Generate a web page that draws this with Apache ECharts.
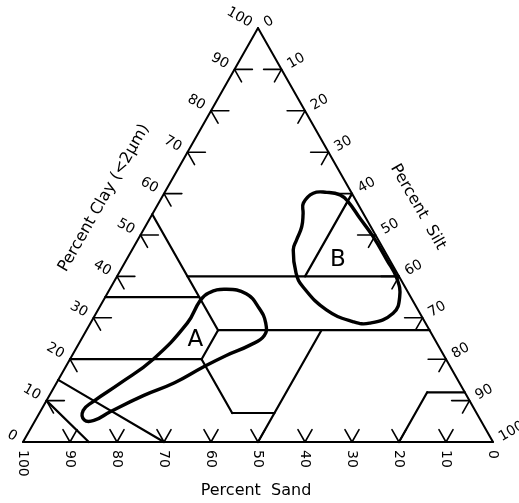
<!DOCTYPE html>
<html><head><meta charset="utf-8">
<script src="https://cdn.jsdelivr.net/npm/echarts@6/dist/echarts.min.js"></script>
<style>html,body{margin:0;padding:0;background:#fff}#c{width:519px;height:503px}</style>
</head><body><div id="c"></div>
<script>
// All points are ternary values: [percent sand, percent clay] (silt = 100 - sand - clay)
const tickValues = [10, 20, 30, 40, 50, 60, 70, 80, 90];
const labelValues = [0, 10, 20, 30, 40, 50, 60, 70, 80, 90, 100];
const triangle = [[100, 0], [0, 0], [0, 100]];
const boundarySegments = [
  [[45, 40], [0, 40]],
  [[0, 60], [20, 40]],
  [[45, 55], [45, 27]],
  [[65, 35], [45, 35]],
  [[45, 27], [0, 27]],
  [[45, 27], [52, 20]],
  [[80, 20], [52, 20]],
  [[52, 20], [52, 7]],
  [[52, 7], [43, 7]],
  [[23, 27], [50, 0]],
  [[8, 12], [0, 12]],
  [[8, 12], [20, 0]],
  [[85, 15], [70, 0]],
  [[90, 10], [86, 0]]
];
const regionA = [
  [80.3, 9.7], [72.2, 14.2], [62.3, 20.0], [50.7, 28.7], [45.2, 34.2], [42.5, 36.0],
  [38.5, 36.9], [34.6, 35.8], [33.6, 32.3], [34.0, 28.7], [35.8, 25.7], [40.0, 23.4],
  [46.3, 20.9], [52.6, 18.1], [60.6, 14.3], [68.8, 11.2], [77.8, 7.3], [82.3, 5.2],
  [84.3, 5.3], [83.4, 7.6]
];
const regionB = [
  [11.5, 57.7], [8.2, 60.1], [5.2, 60.3], [2.7, 59.7], [1.8, 58.0], [1.3, 54.1],
  [0.7, 49.6], [0.6, 44.0], [0.7, 39.5], [2.3, 35.1], [5.7, 31.1], [11.9, 28.7],
  [15.3, 29.1], [19.5, 31.9], [21.7, 37.5], [21.5, 40.8], [19.3, 46.4], [17.4, 48.8],
  [14.7, 52.0], [12.8, 55.2]
];
const regionLabels = [['A', [51, 24.6]], ['B', [11, 44]]];

function toXY(p) { return [100 - p[0] - p[1] / 2, p[1]]; }

const H = 3.8, S = 3.0;
const tickSegs = [];
tickValues.forEach(function (c) {
  tickSegs.push([[100 - c, c], [100 - c - H, c]], [[100 - c, c], [100 - c, c - S]]);
});
tickValues.forEach(function (si) {
  const c = 100 - si;
  tickSegs.push([[0, c], [H, c]], [[0, c], [S, c - S]]);
});
tickValues.forEach(function (sa) {
  tickSegs.push([[sa, 0], [sa, S]], [[sa, 0], [sa - S, S]]);
});
const edgeSegs = [[triangle[0], triangle[1]], [triangle[1], triangle[2]], [triangle[2], triangle[0]]];

function segData(segs) {
  return segs.map(function (s) { const a = toXY(s[0]), b = toXY(s[1]); return [a[0], a[1], b[0], b[1]]; });
}
function segSeries(segs, lw) {
  return {
    type: 'custom', coordinateSystem: 'cartesian2d', silent: true, clip: false,
    encode: { x: [0, 2], y: [1, 3] },
    data: segData(segs),
    renderItem: function (params, api) {
      const p1 = api.coord([api.value(0), api.value(1)]);
      const p2 = api.coord([api.value(2), api.value(3)]);
      return { type: 'line', shape: { x1: p1[0], y1: p1[1], x2: p2[0], y2: p2[1] },
        style: { stroke: '#000', lineWidth: lw, lineCap: 'round' } };
    }
  };
}
function regionSeries(pts) {
  return {
    type: 'custom', coordinateSystem: 'cartesian2d', silent: true, clip: false,
    data: [[0, 0]],
    renderItem: function (params, api) {
      const points = pts.map(function (p) { return api.coord(toXY(p)); });
      return { type: 'polygon', shape: { points: points, smooth: 0.45 },
        style: { fill: 'none', stroke: '#000', lineWidth: 3.4 } };
    }
  };
}
const FONT = '"DejaVu Sans", sans-serif';
function textEl(x, y, text, rot, align, size) {
  return { type: 'text', x: x, y: y, rotation: rot,
    style: { text: text, fill: '#000', fontSize: size, fontFamily: FONT,
      align: align, textAlign: align, verticalAlign: 'middle', textVerticalAlign: 'middle' } };
}
// label data: [axis, value]
const labelData = [];
labelValues.forEach(function (v) { labelData.push([0, v]); labelData.push([1, v]); labelData.push([2, v]); });
const nx = 0.869, ny = 0.494, GAP = 8;
const labelSeries = {
  type: 'custom', coordinateSystem: 'cartesian2d', silent: true, clip: false,
  data: labelData,
  renderItem: function (params, api) {
    const axis = api.value(0), v = api.value(1);
    let p, el;
    if (axis === 0) { // clay, left edge
      p = api.coord(toXY([100 - v, v]));
      el = textEl(p[0] - nx * GAP, p[1] - ny * GAP, String(v), -0.517, 'right', 14);
    } else if (axis === 1) { // silt, right edge
      p = api.coord(toXY([0, 100 - v]));
      el = textEl(p[0] + nx * GAP, p[1] - ny * GAP, String(v), 0.517, 'left', 14);
    } else { // sand, bottom edge
      p = api.coord(toXY([v, 0]));
      el = textEl(p[0], p[1] + 8, String(v), -Math.PI / 2, 'left', 14);
    }
    return el;
  }
};
const regionLabelSeries = {
  type: 'custom', coordinateSystem: 'cartesian2d', silent: true, clip: false,
  data: regionLabels.map(function (r) { return toXY(r[1]); }),
  renderItem: function (params, api) {
    const p = api.coord([api.value(0), api.value(1)]);
    return textEl(p[0], p[1], regionLabels[params.dataIndex][0], 0, 'center', 23);
  }
};

const chart = echarts.init(document.getElementById('c'), null, { renderer: 'canvas' });
chart.setOption({
  animation: false,
  backgroundColor: '#fff',
  grid: { left: 23, top: 28, width: 470, height: 414 },
  xAxis: { type: 'value', min: 0, max: 100, show: false },
  yAxis: { type: 'value', min: 0, max: 100, show: false },
  graphic: [
    textEl(104, 198, 'Percent Clay (<2\u03bcm)', 1.05, 'center', 16),
    textEl(418, 207, 'Percent  Silt', -1.05, 'center', 16),
    textEl(256, 491, 'Percent  Sand', 0, 'center', 16)
  ],
  series: [
    segSeries(edgeSegs, 2),
    segSeries(boundarySegments, 2.2),
    segSeries(tickSegs, 1.6),
    regionSeries(regionA),
    regionSeries(regionB),
    labelSeries,
    regionLabelSeries
  ]
});
</script></body></html>
